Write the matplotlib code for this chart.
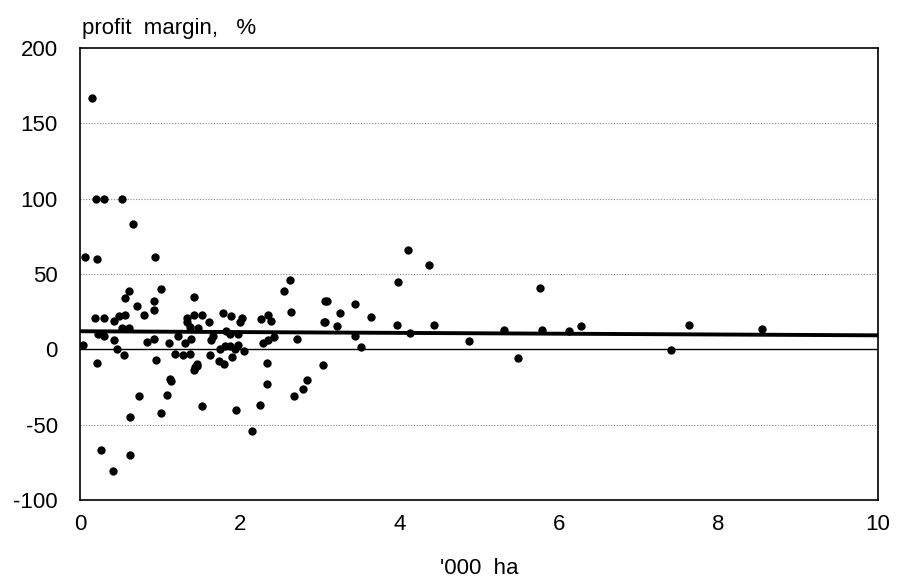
import numpy as np
import matplotlib
matplotlib.use("Agg")
import matplotlib.pyplot as plt

plt.rcParams['font.family'] = ['Liberation Sans', 'DejaVu Sans']
plt.rcParams['axes.unicode_minus'] = False

# farm size ('000 ha) and profit margin (%)
area = [0.15, 0.20, 0.30, 0.53, 0.06, 0.21, 0.67, 0.94,
        0.61, 1.02, 0.56, 0.93, 1.43, 0.71, 0.93, 0.80, 0.19, 0.30, 0.42, 0.49, 0.57,
        1.34, 1.34, 1.43, 1.53, 0.52, 0.61, 1.38, 1.48, 0.23, 0.30, 0.42, 0.04, 0.84,
        0.93, 1.11, 1.23, 1.32, 1.39, 0.46, 0.55, 1.19, 1.29, 1.38, 0.21, 0.95, 1.47,
        1.44, 1.46, 1.43, 1.13, 1.14, 0.74, 1.09, 0.63, 1.02, 1.53, 0.26, 0.63, 0.41,
        2.63, 2.55, 3.07, 1.62, 1.79, 1.89, 2.03, 2.00, 2.35, 2.27, 2.39, 2.65, 3.07,
        1.83, 1.88, 1.98, 1.67, 1.64, 2.43, 2.35, 2.29, 2.72, 1.75, 1.82, 1.88, 1.94,
        1.98, 2.05, 1.63, 1.90, 1.74, 1.80, 2.34, 2.34, 2.85, 2.80, 2.68, 3.04, 1.96,
        2.25, 2.16,
        4.11, 4.37, 3.99, 5.76, 3.09, 3.45, 3.26, 3.65, 3.06, 3.22, 3.97, 4.44, 3.45,
        4.14, 3.52, 4.88, 5.31, 5.79, 6.13, 6.28, 5.49, 7.63, 8.54, 7.41]
margin = [166.8, 99.7, 99.7, 99.7, 61, 60, 83, 61,
          39, 40, 34, 32, 35, 29, 26, 23, 21, 21, 19, 22, 23,
          21, 18, 23, 23, 14, 14, 15, 14, 10, 9, 6, 3, 5,
          7, 4, 9, 4, 7, 0, -4, -3, -4, -3, -9, -7, -10,
          -12, -11, -14, -19.5, -21, -31, -30, -45, -42, -37.6, -67, -70, -81,
          46, 38.5, 32, 18, 24, 22, 21, 18, 23, 20, 19, 25, 18,
          12, 10, 10, 9, 6, 8, 6, 4, 7, 0, 2, 2, 0.5,
          3, -1, -3.5, -5, -8, -9.5, -9, -23, -20.6, -26, -31, -10.6, -40,
          -37, -54,
          66, 56, 45, 41, 32, 30, 24, 21.5, 18, 15.5, 16.4, 16.4, 9,
          10.6, 1.3, 5.5, 13, 13, 12, 15.7, -5.5, 16.4, 13.7, -0.7]

# linear trend as drawn on the chart (value at x=0 and at x=10)
trend_x = [0, 10]
trend_y = [12, 9.3]

fig = plt.figure(figsize=(9.01, 5.82), dpi=100)
ax = fig.add_axes([0.0888, 0.1409, 0.8857, 0.7766])

for g in [-50, 50, 100, 150]:
    ax.axhline(g, color='#888888', lw=0.8, ls=(0, (1, 1.5)), zorder=1)
ax.axhline(0, color='black', lw=1.0, zorder=2)
ax.scatter(area, margin, s=36, color='black', zorder=3, linewidths=0)
ax.plot(trend_x, trend_y, color='black', lw=2.8, zorder=4)

ax.set_xlim(0, 10)
ax.set_ylim(-100, 200)
ax.set_xticks([0, 2, 4, 6, 8, 10])
ax.set_yticks([-100, -50, 0, 50, 100, 150, 200])
ax.tick_params(length=0, labelsize=16)
ax.tick_params(axis='y', pad=16)
ax.tick_params(axis='x', pad=10)
for s in ax.spines.values():
    s.set_linewidth(1.2)
    s.set_color('black')

fig.text(0.091, 0.942, 'profit  margin,   %', fontsize=16, ha='left', va='baseline')
ax.set_xlabel("'000  ha", fontsize=16, labelpad=17)

fig.savefig('out.png', dpi=100)
